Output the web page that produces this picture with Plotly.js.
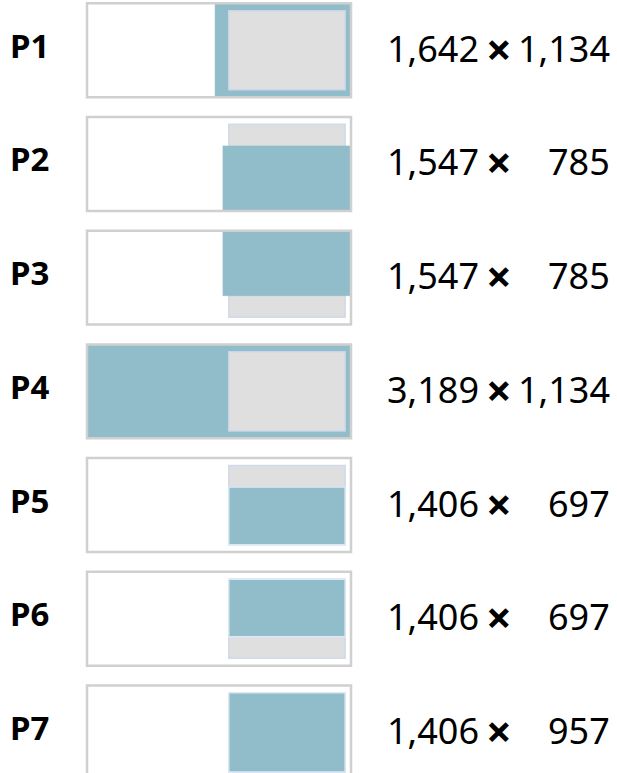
<!DOCTYPE html>
<html>
<head>
<meta charset="utf-8">
<script src="https://cdn.plot.ly/plotly-3.0.1.min.js"></script>
<style>html,body{margin:0;padding:0;background:#fff;}#chart{width:617px;height:773px;}</style>
</head>
<body>
<div id="chart"></div>
<script>
// ---- data ----
const labels  = ['P1', 'P2', 'P3', 'P4', 'P5', 'P6', 'P7'];
const widths  = [1642, 1547, 1547, 3189, 1406, 1406, 1406];
const heights = [1134, 785, 785, 1134, 697, 697, 957];
const vAlign  = ['center', 'bottom', 'top', 'center', 'bottom', 'top', 'center'];
const boxW = 3189, boxH = 1134;     // outer canvas size
const frameW = 1406, frameH = 957;  // reference (gray) frame size

// ---- layout constants (pixels) ----
const W = 617, H = 773;
const BOX_LEFT_PX = 87, BOX_W_PX = 264;
const ROW_TOP0_PX = 3.3, ROW_PITCH_PX = 113.7;
const k = boxW / BOX_W_PX;               // data units per pixel
const grayRightInset = 70.5;             // units

const BLUE = '#91bdca', GRAY = '#dfdfdf', BORDER = '#d0d0d0';
const FONT = 'Noto Sans, sans-serif';

const shapes = [];
const annotations = [];
const fmt = v => v.toLocaleString('en-US');

labels.forEach((lab, i) => {
  const top = (ROW_TOP0_PX + i * ROW_PITCH_PX) * k;
  const bottom = top + boxH;
  // box background
  shapes.push({type: 'rect', xref: 'x', yref: 'y', x0: 0, x1: boxW, y0: top, y1: bottom,
               fillcolor: '#ffffff', line: {width: 0}, layer: 'above'});
  // gray frame
  const gcx = boxW - grayRightInset - frameW / 2;
  const gTop = top + (boxH - frameH) / 2, gBot = gTop + frameH;
  const gray = {type: 'rect', xref: 'x', yref: 'y', x0: gcx - frameW / 2, x1: gcx + frameW / 2,
                y0: gTop, y1: gBot, fillcolor: GRAY,
                line: {color: 'rgba(205,215,235,0.9)', width: 1.5}, layer: 'above'};
  // blue rect
  const w = widths[i], h = heights[i];
  let x0 = gcx - w / 2;
  if (x0 + w > boxW) x0 = boxW - w;
  if (x0 < 0) x0 = 0;
  const useFrame = w <= frameW;
  const rTop = useFrame ? gTop : top, rBot = useFrame ? gBot : bottom;
  let y0;
  if (vAlign[i] === 'top') y0 = rTop;
  else if (vAlign[i] === 'bottom') y0 = rBot - h;
  else y0 = (rTop + rBot) / 2 - h / 2;
  const blue = {type: 'rect', xref: 'x', yref: 'y', x0: x0, x1: x0 + w, y0: y0, y1: y0 + h,
                fillcolor: BLUE,
                line: {color: useFrame ? 'rgba(220,232,245,1)' : BLUE, width: useFrame ? 1.5 : 0.5},
                layer: 'above'};
  const contains = w > frameW && h > frameH;
  if (contains) { shapes.push(blue, gray); } else { shapes.push(gray, blue); }
  // box border
  shapes.push({type: 'rect', xref: 'x', yref: 'y', x0: 0, x1: boxW, y0: top, y1: bottom,
               fillcolor: 'rgba(0,0,0,0)', line: {color: BORDER, width: 2.5}, layer: 'above'});

  const yc = top + boxH / 2;
  annotations.push({xref: 'paper', yref: 'y', x: 8 / W, y: yc, xanchor: 'left', yanchor: 'middle',
    text: '<b>' + lab + '</b>', showarrow: false, yshift: 5,
    font: {family: FONT, size: 33, color: '#000'}});
  annotations.push({xref: 'paper', yref: 'y', x: 481 / W, y: yc, xanchor: 'right', yanchor: 'middle',
    text: fmt(w), showarrow: false, yshift: 2,
    font: {family: FONT, size: 36, color: '#000'}});
  annotations.push({xref: 'paper', yref: 'y', x: 499 / W, y: yc, xanchor: 'center', yanchor: 'middle',
    text: '<b>×</b>', showarrow: false, yshift: 2,
    font: {family: FONT, size: 45, color: '#000'}});
  annotations.push({xref: 'paper', yref: 'y', x: 612 / W, y: yc, xanchor: 'right', yanchor: 'middle',
    text: fmt(h), showarrow: false, yshift: 2,
    font: {family: FONT, size: 36, color: '#000'}});
});

const layout = {
  width: W, height: H,
  margin: {l: 0, r: 0, t: 0, b: 0},
  paper_bgcolor: '#ffffff', plot_bgcolor: '#ffffff',
  showlegend: false,
  xaxis: {range: [-BOX_LEFT_PX * k, (W - BOX_LEFT_PX) * k], visible: false, fixedrange: true},
  yaxis: {range: [H * k, 0], visible: false, fixedrange: true},
  shapes: shapes,
  annotations: annotations
};

Plotly.newPlot('chart', [{x: [], y: [], type: 'scatter', hoverinfo: 'skip'}], layout,
  {staticPlot: true, displayModeBar: false});
</script>
</body>
</html>
